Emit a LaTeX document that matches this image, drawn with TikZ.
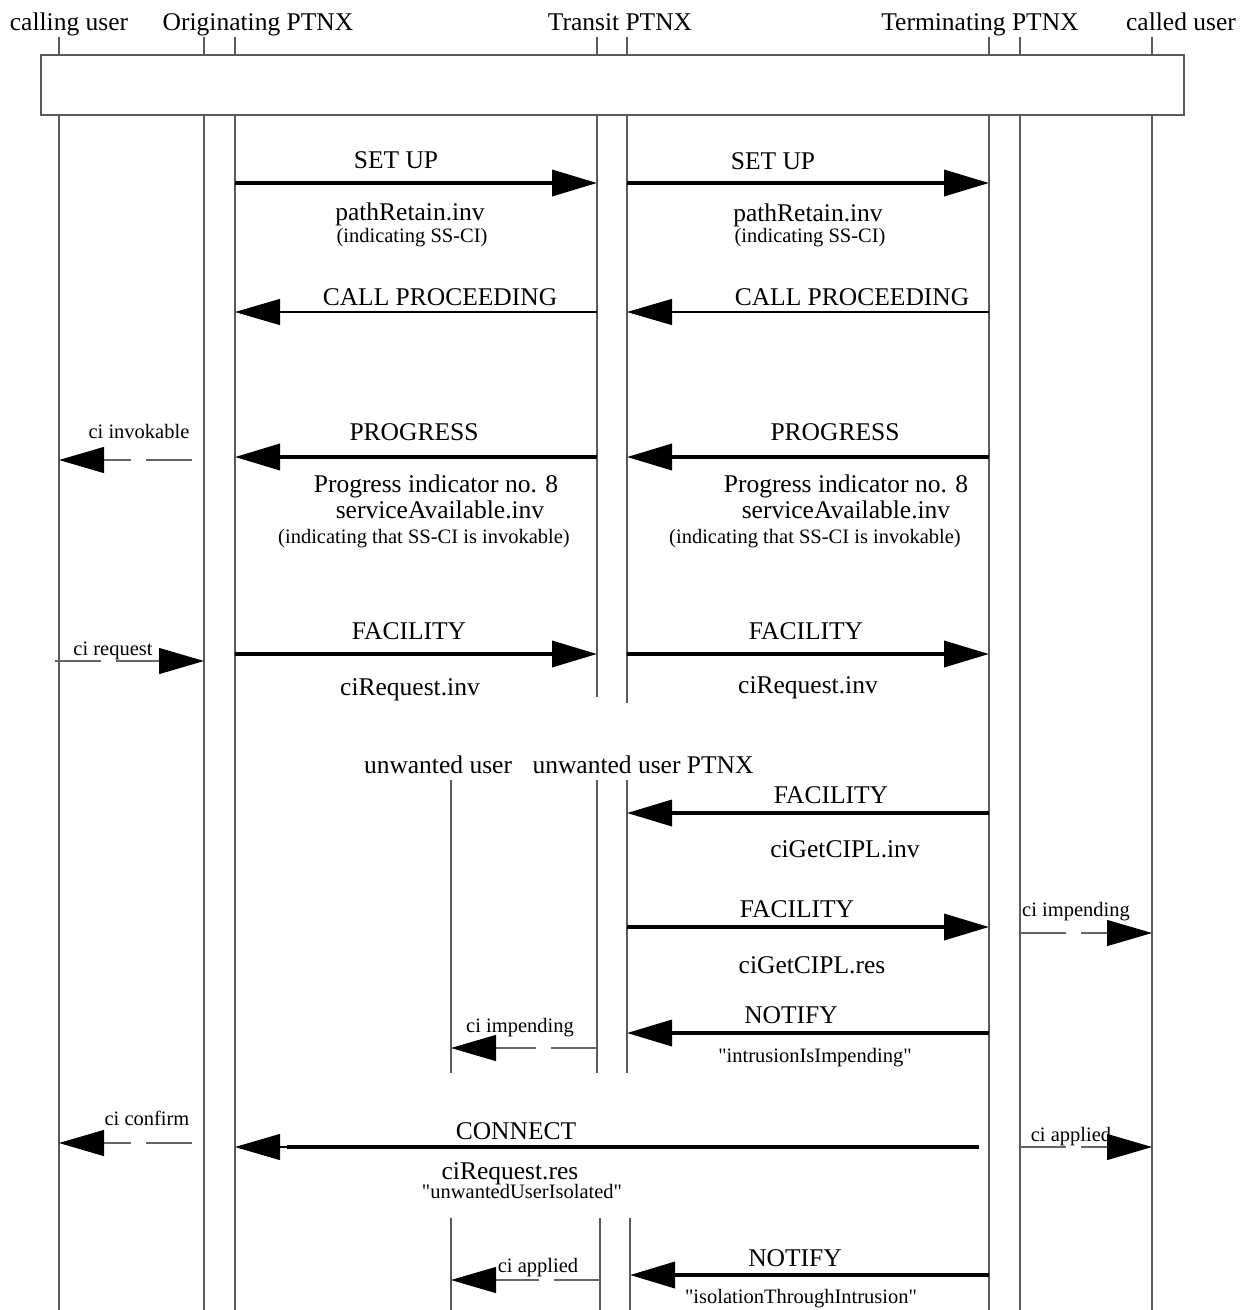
\documentclass[tikz,border=0pt]{standalone}
\usepackage{fontspec}
\setmainfont{Liberation Serif}[Ligatures=TeXOff]
\usetikzlibrary{arrows.meta}
\begin{document}
\begin{tikzpicture}[x=1pt,y=-1pt,
  life/.style={draw=black!65,line width=1.1pt},
  big/.style={font=\fontsize{25.5}{28}\selectfont, inner sep=0pt, anchor=base},
  small/.style={font=\fontsize{20.5}{23}\selectfont, inner sep=0pt, anchor=base},
  hd/.style={-{Triangle[length=45pt,width=26pt]}},
  thickmsg/.style={hd, line width=3.6pt},
  thinmsg/.style={hd, line width=1.1pt},
  localmsg/.style={-{Triangle[length=45pt,width=26pt,color=black]}, draw=black!60, line width=1.2pt, dash pattern=on 46pt off 15pt}
]
\useasboundingbox (0,0) rectangle (1240,1310);
% lifeline x positions
\coordinate (cu) at (59,0);
\coordinate (o1) at (204,0);
\coordinate (o2) at (235,0);
\coordinate (t1) at (597,0);
\coordinate (t2) at (627,0);
\coordinate (e1) at (989,0);
\coordinate (e2) at (1020,0);
\coordinate (cd) at (1152,0);
\coordinate (uu) at (451,0);
\coordinate (ub1) at (600,0);
\coordinate (ub2) at (630,0);

% headers
\node[big] (hcu) at (69,30) {calling user};
\node[big] (ho) at (258,30) {Originating PTNX};
\node[big] (ht) at (620,30) {Transit PTNX};
\node[big] (he) at (980,30) {Terminating PTNX};
\node[big] (hcd) at (1181,30) {called user};

% box
\node[draw=black!65, line width=1.1pt, minimum width=1143pt, minimum height=60pt, inner sep=0pt] (box) at (612.5,85) {};

% stubs above box
\foreach \c in {cu,o1,o2,t1,t2,e1,e2,cd}
  \draw[life] (\c |- 0,37) -- (\c |- box.north);

% main lifelines
\foreach \c in {cu,o1,o2,e1,e2,cd}
  \draw[life] (\c |- box.south) -- (\c |- 0,1310);
\draw[life] (t1 |- box.south) -- (t1 |- 0,697);
\draw[life] (t2 |- box.south) -- (t2 |- 0,703);

% unwanted user section
\node[big] (hu) at (438,773) {unwanted user};
\node[big] (hup) at (643,773) {unwanted user PTNX};
\draw[life] (uu |- 0,780) -- (uu |- 0,1073);
\draw[life] (t1 |- 0,780) -- (t1 |- 0,1073);
\draw[life] (t2 |- 0,780) -- (t2 |- 0,1073);
\draw[life] (uu |- 0,1218) -- (uu |- 0,1310);
\draw[life] (ub1 |- 0,1218) -- (ub1 |- 0,1310);
\draw[life] (ub2 |- 0,1218) -- (ub2 |- 0,1310);

% SET UP
\draw[thickmsg] (o2 |- 0,183) -- (t1 |- 0,183);
\node[big] (su1) at (396,168) {SET UP};
\node[big] (pr1) at (410,220) {pathRetain.inv};
\node[small] (ind1) at (412,242) {(indicating SS-CI)};
\draw[thickmsg] (t2 |- 0,183) -- (e1 |- 0,183);
\node[big] (su2) at (773,169) {SET UP};
\node[big] (pr2) at (808,221) {pathRetain.inv};
\node[small] (ind2) at (810,242) {(indicating SS-CI)};

% CALL PROCEEDING
\draw[thinmsg] (t1 |- 0,312) -- (o2 |- 0,312);
\node[big] (cp1) at (440,305) {CALL PROCEEDING};
\draw[thinmsg] (e1 |- 0,312) -- (t2 |- 0,312);
\node[big] (cp2) at (852,305) {CALL PROCEEDING};

% PROGRESS
\draw[thickmsg] (t1 |- 0,457) -- (o2 |- 0,457);
\node[big] (pg1) at (414,440) {PROGRESS};
\node[big] (pi1) at (436,492) {Progress indicator no. 8};
\node[big] (sa1) at (440,518) {serviceAvailable.inv};
\node[small] (ii1) at (424,543) {(indicating that SS-CI is invokable)};
\draw[thickmsg] (e1 |- 0,457) -- (t2 |- 0,457);
\node[big] (pg2) at (835,440) {PROGRESS};
\node[big] (pi2) at (846,492) {Progress indicator no. 8};
\node[big] (sa2) at (846,518) {serviceAvailable.inv};
\node[small] (ii2) at (815,543) {(indicating that SS-CI is invokable)};
\draw[localmsg] (192,460) -- (cu |- 0,460);
\node[small] (civ) at (139,438) {ci invokable};

% FACILITY ciRequest
\draw[thickmsg] (o2 |- 0,654) -- (t1 |- 0,654);
\node[big] (f1) at (409,639) {FACILITY};
\node[big] (cr1) at (410,695) {ciRequest.inv};
\draw[thickmsg] (t2 |- 0,654) -- (e1 |- 0,654);
\node[big] (f2) at (806,639) {FACILITY};
\node[big] (cr2) at (808,693) {ciRequest.inv};
\coordinate (crq) at (55,661);
\draw[localmsg] (crq) -- (o1 |- crq);
\node[small] (cir) at (113,655) {ci request};

% FACILITY ciGetCIPL.inv
\draw[thickmsg] (e1 |- 0,813) -- (t2 |- 0,813);
\node[big] (f3) at (831,803) {FACILITY};
\node[big] (gi) at (845,857) {ciGetCIPL.inv};

% FACILITY ciGetCIPL.res
\draw[thickmsg] (t2 |- 0,927) -- (e1 |- 0,927);
\node[big] (f4) at (797,917) {FACILITY};
\node[big] (gr) at (812,973) {ciGetCIPL.res};
\draw[localmsg] (e2 |- 0,933) -- (cd |- 0,933);
\node[small] (cim1) at (1076,916) {ci impending};

% NOTIFY intrusionIsImpending
\draw[thickmsg] (e1 |- 0,1033) -- (t2 |- 0,1033);
\node[big] (n1) at (791,1023) {NOTIFY};
\node[small] (iii) at (815,1062) {"intrusionIsImpending"};
\draw[localmsg] (t1 |- 0,1048) -- (uu |- 0,1048);
\node[small] (cim2) at (520,1032) {ci impending};

% CONNECT
\coordinate (cs) at (979,1147);
\coordinate (cm) at (287,1147);
\draw[line width=3.6pt] (cs) -- (cm);
\draw[thinmsg] (cm) -- (o2 |- cm);
\node[big] (cn) at (516,1139) {CONNECT};
\node[big] (crs) at (510,1179) {ciRequest.res};
\node[small] (uui) at (522,1198) {"unwantedUserIsolated"};
\draw[localmsg] (192,1143) -- (cu |- 0,1143);
\node[small] (cic) at (147,1125) {ci confirm};
\draw[localmsg] (e2 |- 0,1147) -- (cd |- 0,1147);
\node[small] (cia1) at (1071,1141) {ci applied};

% NOTIFY isolationThroughIntrusion
\draw[thickmsg] (e1 |- 0,1275) -- (ub2 |- 0,1275);
\node[big] (n2) at (795,1266) {NOTIFY};
\node[small] (iti) at (801,1303) {"isolationThroughIntrusion"};
\draw[localmsg] (ub1 |- 0,1280) -- (uu |- 0,1280);
\node[small] (cia2) at (538,1272) {ci applied};
\end{tikzpicture}
\end{document}
